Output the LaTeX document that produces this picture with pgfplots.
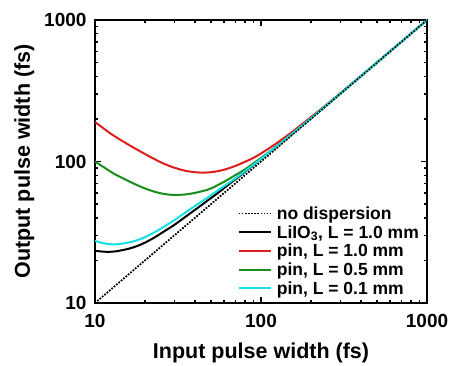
\documentclass[border=0pt]{standalone}
\usepackage{pgfplots}
\pgfplotsset{compat=1.18}
\usepackage{fontspec}
\setmainfont{Liberation Sans}
\definecolor{cred}{RGB}{222,30,30}
\definecolor{cgreen}{RGB}{25,140,25}
\definecolor{ccyan}{RGB}{20,225,230}
\begin{document}
\begin{tikzpicture}
\begin{axis}[
  name=ax,
  xmode=log, ymode=log,
  scale only axis,
  width=332pt, height=283pt,
  xmin=10, xmax=1000, ymin=10, ymax=1000,
  xtick={10,100,1000}, xticklabels={10,100,1000},
  ytick={10,100,1000}, yticklabels={10,100,1000},
  /pgf/number format/assume math mode=true,
  tick label style={font=\bfseries\fontsize{19}{19}\selectfont},
  xticklabel style={yshift=-8pt},
  yticklabel style={xshift=-5pt},
  label style={font=\bfseries\fontsize{21.5}{24}\selectfont},
  xlabel={Input pulse width (fs)},
  ylabel={Output pulse width (fs)},
  xlabel style={yshift=-8pt},
  ylabel style={yshift=3pt},
  axis line style={line width=1.8pt},
  tick align=inside,
  major tick length=6pt, minor tick length=3.5pt,
  every tick/.style={line width=1.4pt, black},
  legend style={draw=none, fill=none, at={(0.985,0.015)}, anchor=south east,
    font=\bfseries\fontsize{17.5}{20}\selectfont, row sep=0.5pt, inner sep=1pt,
    cells={anchor=west}},
  legend image code/.code={\draw[#1] (0pt,0pt) -- (32pt,0pt);},
]
\addplot[black, line width=1.5pt, dash pattern=on 1.5pt off 1.6pt] coordinates {(10,10) (1000,1000)};
\addlegendentry{\hspace{3pt}no dispersion}
\addplot[black, line width=2pt, smooth] coordinates {
(10,23.4) (11,23.1) (12,23) (13,23.1) (14,23.4) (16,24.2) (18,25.3) (20,26.7) (23,29.2) (26,32) (30,35.6) (35,40.6) (40,45.5) (47,52.3) (55,60) (65,70) (75,79.5) (90,94.5) (100,104.5) (120,124) (150,153.5) (200,202) (300,301.5) (500,501) (1000,1000)};
\addlegendentry{\hspace{3pt}LiIO\textsubscript{3}, L = 1.0 mm}
\addplot[cred, line width=2pt, smooth] coordinates {
(10,190) (11,175) (12,162) (13,152) (14,144) (16,131) (18,121) (20,113) (23,103.5) (26,96.5) (30,90.5) (35,86) (40,84) (45,83.5) (50,84) (55,85.5) (60,87.5) (70,93) (80,99.5) (90,106) (100,114) (120,131) (150,158) (200,206) (250,254) (300,303) (400,402) (500,501) (700,700) (1000,1000)};
\addlegendentry{\hspace{3pt}pin, L = 1.0 mm}
\addplot[cgreen, line width=2pt, smooth] coordinates {
(10,100) (11,93) (12,87) (13,82) (14,78.5) (16,72.5) (18,68) (20,64.5) (23,61) (26,59) (30,58) (35,58.5) (40,60) (45,62) (50,64.5) (60,72) (70,80) (80,88) (90,97) (100,106) (120,124) (150,153) (200,202) (300,301) (500,500.5) (1000,1000)};
\addlegendentry{\hspace{3pt}pin, L = 0.5 mm}
\addplot[ccyan, line width=2pt, smooth] coordinates {
(10,27.5) (11,26.6) (12,26.1) (13,26) (14,26.1) (16,26.8) (18,27.8) (20,29.2) (23,31.8) (26,34.6) (30,38.5) (35,43.5) (40,48.5) (47,55) (55,62.5) (65,71.5) (75,80.5) (90,95) (100,104.5) (120,124) (150,153) (200,202) (300,301.5) (500,501) (1000,1000)};
\addlegendentry{\hspace{3pt}pin, L = 0.1 mm}
\addplot[black, line width=1.5pt, dash pattern=on 1.5pt off 1.6pt, forget plot] coordinates {(10,10) (1000,1000)};
\end{axis}
\pgfresetboundingbox
\path ([xshift=-95pt,yshift=-62pt]ax.south west) rectangle ([xshift=27pt,yshift=20pt]ax.north east);
\end{tikzpicture}
\end{document}
